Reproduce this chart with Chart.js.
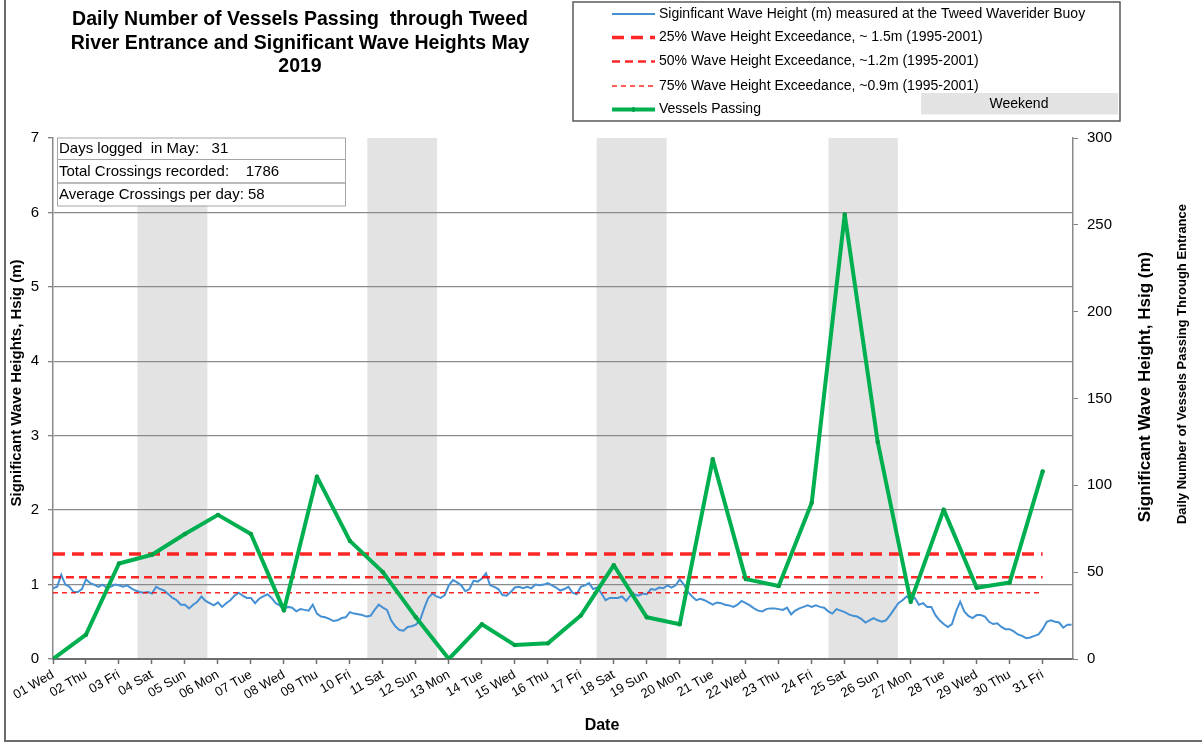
<!DOCTYPE html>
<html><head><meta charset="utf-8">
<script src="https://cdn.jsdelivr.net/npm/chart.js@4.4.1/dist/chart.umd.min.js"></script>
<style>html,body{margin:0;padding:0;background:#fff;}canvas{display:block;}</style>
</head><body>
<canvas id="c" width="1202" height="743"></canvas>
<script>
// ---------------- DATA ----------------
const dayLabels = ['01 Wed','02 Thu','03 Fri','04 Sat','05 Sun','06 Mon','07 Tue','08 Wed','09 Thu','10 Fri',
  '11 Sat','12 Sun','13 Mon','14 Tue','15 Wed','16 Thu','17 Fri','18 Sat','19 Sun','20 Mon',
  '21 Tue','22 Wed','23 Thu','24 Fri','25 Sat','26 Sun','27 Mon','28 Tue','29 Wed','30 Thu','31 Fri'];
const vesselsPassing = [0,14,55,60,72,83,72,28,105,68,50,24,0,20,8,9,25,54,24,20,115,46,42,90,256,125,33,86,41,44,108];
// significant wave height, 3-hourly readings from 1 May 00:00
const waveStartDay = 1;
const waveStepHours = 3;
const waveHs = [
  0.95,0.97,1.13,1.00,0.97,0.90,0.90,0.94,1.07,1.02,
  1.00,0.97,1.00,0.96,0.97,1.00,0.99,0.97,0.99,0.95,
  0.92,0.90,0.89,0.90,0.88,0.97,0.94,0.92,0.87,0.82,
  0.79,0.73,0.73,0.68,0.73,0.77,0.84,0.78,0.75,0.72,
  0.76,0.70,0.75,0.79,0.85,0.89,0.85,0.82,0.82,0.75,
  0.81,0.84,0.87,0.82,0.75,0.72,0.67,0.70,0.69,0.64,
  0.67,0.66,0.65,0.73,0.61,0.57,0.56,0.54,0.51,0.52,
  0.55,0.56,0.63,0.61,0.60,0.59,0.57,0.58,0.66,0.73,
  0.69,0.66,0.52,0.44,0.39,0.38,0.43,0.44,0.46,0.52,
  0.68,0.82,0.88,0.84,0.82,0.86,0.99,1.06,1.03,0.99,
  0.91,0.94,1.05,1.04,1.08,1.15,0.99,0.97,0.94,0.86,
  0.85,0.90,0.96,0.97,0.95,0.97,0.95,1.00,0.99,1.00,
  1.02,0.99,0.96,0.92,0.94,
  0.97,0.89,0.87,0.97,0.99,
  1.02,0.94,0.96,0.88,0.79,0.82,0.82,0.82,0.84,0.78,
  0.85,0.87,0.85,0.88,0.87,0.94,0.93,0.96,0.95,0.99,
  0.96,0.99,1.07,1.00,0.90,0.84,0.79,0.81,0.79,0.76,
  0.73,0.76,0.75,0.73,0.72,0.70,0.73,0.78,0.75,0.72,
  0.68,0.65,0.64,0.67,0.68,0.68,0.67,0.66,0.69,0.60,
  0.65,0.68,0.70,0.72,0.70,0.72,
  0.70,0.69,0.64,0.61,
  0.67,0.65,0.63,0.60,0.58,0.57,0.54,0.49,0.52,0.55,
  0.52,0.50,0.52,0.59,0.67,0.75,0.79,0.84,0.80,0.82,
  0.73,0.75,0.70,0.70,0.59,0.52,0.47,0.43,0.47,0.64,
  0.77,0.64,0.58,0.55,0.59,0.59,0.57,0.50,0.47,0.48,
  0.43,0.40,0.40,0.37,0.33,0.31,0.28,0.29,0.31,0.33,
  0.40,0.50,0.52,0.50,0.49,0.42,0.46,0.46
];
const exceed25 = 1.41, exceed50 = 1.10, exceed75 = 0.89;
const weekendStart = [3.56, 10.53, 17.48, 24.51];
const weekendEnd   = [5.68, 12.64, 19.60, 26.61];
const leftTicks = [0,1,2,3,4,5,6,7];
const rightTicks = [0,50,100,150,200,250,300];
const titleLines = ['Daily Number of Vessels Passing  through Tweed','River Entrance and Significant Wave Heights May','2019'];
const infoLines = ['Days logged  in May:   31','Total Crossings recorded:    1786','Average Crossings per day: 58'];
const legendLabels = ['Siginficant Wave Height (m) measured at the Tweed Waverider Buoy',
  '25% Wave Height Exceedance, ~ 1.5m (1995-2001)',
  '50% Wave Height Exceedance, ~1.2m (1995-2001)',
  '75% Wave Height Exceedance, ~0.9m (1995-2001)',
  'Vessels Passing'];
const weekendLabel = 'Weekend';
const xTitle = 'Date';
const yLeftTitle = 'Significant Wave Heights, Hsig (m)';
const yRightTitle1 = 'Significant Wave Height, Hsig (m)';
const yRightTitle2 = 'Daily Number of Vessels Passing Through Entrance';

// ---------------- CHART ----------------
const FONT = '"Liberation Sans", Arial, sans-serif';
Chart.defaults.font.family = FONT;
Chart.defaults.color = '#000';

const firstDay = 1, lastDay = dayLabels.length;
const lineEnds = [firstDay, lastDay];

const dsVessels = {
  label: legendLabels[4], yAxisID: 'y2', order: 0,
  data: vesselsPassing.map((v, i) => ({x: i + 1, y: v})),
  borderColor: '#00b050', backgroundColor: '#00a548', borderWidth: 4,
  borderJoinStyle: 'round', borderCapStyle: 'round',
  pointRadius: 2.2, pointBorderWidth: 0, pointBackgroundColor: '#009e45', tension: 0
};
const dsWave = {
  label: legendLabels[0], yAxisID: 'y', order: 4,
  data: waveHs.map((v, k) => ({x: waveStartDay + k * waveStepHours / 24, y: v})),
  borderColor: '#4590d3', borderWidth: 2, pointRadius: 0, tension: 0
};
const mkExceed = (lbl, val, w, dash, ord) => ({
  label: lbl, yAxisID: 'y', order: ord,
  data: lineEnds.map(d => ({x: d, y: val})),
  borderColor: 'rgba(255,0,0,0.85)', borderWidth: w, borderDash: dash, pointRadius: 0, borderCapStyle: 'butt'
});
const ds25 = mkExceed(legendLabels[1], exceed25, 3.5, [12, 7], 1);
const ds50 = mkExceed(legendLabels[2], exceed50, 2.5, [8, 5], 2);
const ds75 = mkExceed(legendLabels[3], exceed75, 1.5, [5, 4], 3);

const decor = {
  id: 'decor',
  beforeDraw(chart) {
    const {ctx, scales: {x, y}} = chart;
    ctx.save();
    ctx.fillStyle = '#fff';
    ctx.fillRect(0, 0, chart.width, chart.height);
    ctx.fillStyle = '#e3e3e3';
    for (let i = 0; i < weekendStart.length; i++) {
      const x0 = x.getPixelForValue(weekendStart[i]);
      const x1 = x.getPixelForValue(weekendEnd[i]);
      ctx.fillRect(x0, y.top, x1 - x0, y.bottom - y.top);
    }
    ctx.restore();
  },
  afterDraw(chart) {
    const ctx = chart.ctx;
    ctx.save();
    // outer frame
    ctx.strokeStyle = '#6b6b6b'; ctx.lineWidth = 2;
    ctx.beginPath(); ctx.moveTo(5, 0); ctx.lineTo(5, 741); ctx.lineTo(1202, 741); ctx.stroke();

    // title
    ctx.fillStyle = '#000'; ctx.textAlign = 'center'; ctx.textBaseline = 'middle';
    ctx.font = 'bold 19.5px ' + FONT;
    titleLines.forEach((t, i) => ctx.fillText(t, 300, 20 + i * 23.5));

    // info box
    const bx = 57, bw = 288, rowsY = [137.5, 159, 182.5, 205.5];
    ctx.fillStyle = '#fff'; ctx.fillRect(bx, rowsY[0], bw, rowsY[3] - rowsY[0]);
    ctx.strokeStyle = '#a6a6a6'; ctx.lineWidth = 1;
    for (let i = 0; i < 3; i++) ctx.strokeRect(bx + 0.5, rowsY[i] + 0.5, bw, rowsY[i + 1] - rowsY[i]);
    ctx.fillStyle = '#000'; ctx.textAlign = 'left'; ctx.font = '15px ' + FONT;
    infoLines.forEach((t, i) => ctx.fillText(t, bx + 2, (rowsY[i] + rowsY[i + 1]) / 2 + 1));

    // legend box
    const lx = 573, ly = 2, lw = 547, lh = 119;
    ctx.fillStyle = '#fff'; ctx.fillRect(lx, ly, lw, lh);
    ctx.strokeStyle = '#595959'; ctx.lineWidth = 1.5; ctx.strokeRect(lx, ly, lw, lh);
    const rowY = [14, 37.5, 61.5, 86, 109.5];
    const sets = [dsWave, ds25, ds50, ds75, dsVessels];
    sets.forEach((d, i) => {
      ctx.save();
      ctx.strokeStyle = d.borderColor; ctx.lineWidth = d.borderWidth;
      ctx.setLineDash(d.borderDash || []);
      ctx.beginPath(); ctx.moveTo(612, rowY[i]); ctx.lineTo(655, rowY[i]); ctx.stroke();
      ctx.restore();
    });
    ctx.fillStyle = '#009e45'; ctx.fillRect(632.5, rowY[4] - 2.5, 2, 5);
    ctx.fillStyle = '#e3e3e3'; ctx.fillRect(921, 93, 197, 21.5);
    ctx.fillStyle = '#000'; ctx.font = '14px ' + FONT; ctx.textAlign = 'left';
    legendLabels.forEach((t, i) => ctx.fillText(t, 659, rowY[i]));
    ctx.textAlign = 'center'; ctx.fillText(weekendLabel, 1019, 104);

    // axis titles
    ctx.font = 'bold 16px ' + FONT; ctx.textAlign = 'center';
    ctx.fillText(xTitle, 602, 726);
    const vText = (t, x, yc, font) => {
      ctx.save(); ctx.translate(x, yc); ctx.rotate(-Math.PI / 2);
      ctx.font = font; ctx.textAlign = 'center'; ctx.textBaseline = 'middle';
      ctx.fillText(t, 0, 0); ctx.restore();
    };
    vText(yLeftTitle, 17, 383, 'bold 15px ' + FONT);
    vText(yRightTitle1, 1145, 387, 'bold 17px ' + FONT);
    vText(yRightTitle2, 1182, 364, 'bold 13px ' + FONT);
    ctx.restore();
  }
};

new Chart(document.getElementById('c'), {
  type: 'line',
  data: { datasets: [dsVessels, ds25, ds50, ds75, dsWave] },
  options: {
    responsive: false, animation: false, devicePixelRatio: 1,
    layout: { padding: { top: 138, left: 0, right: 0, bottom: 0 } },
    plugins: { legend: { display: false }, title: { display: false }, tooltip: { enabled: false } },
    scales: {
      x: {
        type: 'linear', min: 1, max: 31.92,
        afterBuildTicks: s => { s.ticks = dayLabels.map((_, i) => ({value: i + 1})); },
        ticks: { autoSkip: false, minRotation: 30, maxRotation: 30, padding: 3,
          font: { size: 13 }, color: '#000',
          callback: v => dayLabels[Math.round(v) - 1] },
        grid: { drawOnChartArea: false, drawTicks: true, tickLength: 5, tickColor: '#6e6e6e', tickWidth: 1.5 },
        border: { color: '#6e6e6e', width: 2 },
        afterFit: s => { s.height = 84; }
      },
      y: {
        position: 'left', min: 0, max: 7,
        afterBuildTicks: s => { s.ticks = leftTicks.map(v => ({value: v})); },
        ticks: { font: { size: 15 }, color: '#000', padding: 9 },
        grid: { color: c => (c.tick && c.tick.value > 0 && c.tick.value < 7) ? '#8a8a8a' : 'rgba(0,0,0,0)',
          lineWidth: 1.3, tickLength: 5, tickColor: '#7f7f7f' },
        border: { color: '#8a8a8a', width: 1.5 },
        afterFit: s => { s.width = 53; }
      },
      y2: {
        position: 'right', min: 0, max: 300,
        afterBuildTicks: s => { s.ticks = rightTicks.map(v => ({value: v})); },
        ticks: { font: { size: 15 }, color: '#000', padding: 9 },
        grid: { drawOnChartArea: false, tickLength: 5, tickColor: '#7f7f7f' },
        border: { color: '#8a8a8a', width: 1.5 },
        afterFit: s => { s.width = 129; }
      }
    }
  },
  plugins: [decor]
});
</script>
</body></html>
